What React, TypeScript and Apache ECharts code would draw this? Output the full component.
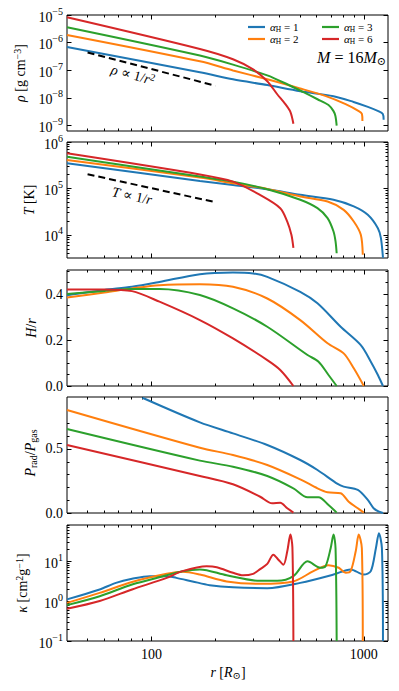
import { useEffect, useRef } from 'react';
import * as echarts from 'echarts';

const FONT = "'Liberation Serif', 'DejaVu Serif', serif";
const COLORS = ['#1f77b4', '#ff7f0e', '#2ca02c', '#d62728'];
const SERIES_NAMES = ['αH = 1', 'αH = 2', 'αH = 3', 'αH = 6'];

// shared x axis: r [R_sun]
const X_MIN = 40;
const X_MAX = 1300;
const X_MAJOR = [100, 1000];
const X_MINOR = [50, 60, 70, 80, 90, 200, 300, 400, 500, 600, 700, 800, 900];

// density rho [g cm^-3]
const rho1 = [[40, 6.9e-7], [169, 8.5e-8], [242, 4.7e-8], [351, 2.9e-8], [502, 1.74e-8], [720, 1.15e-8], [895, 7.1e-9], [1045, 4.7e-9], [1170, 3.3e-9], [1229, 2.6e-9], [1240, 1.6e-9]];
const rho2 = [[40, 1.9e-6], [169, 2.1e-7], [242, 9.8e-8], [351, 4.7e-8], [496, 2.24e-8], [663, 1.15e-8], [821, 5.9e-9], [947, 3.3e-9], [980, 2.6e-9], [985, 1.45e-9]];
const rho3 = [[40, 3.6e-6], [169, 3.4e-7], [242, 1.6e-7], [351, 6.5e-8], [436, 3.1e-8], [520, 1.6e-8], [605, 8.9e-9], [682, 5.5e-9], [720, 3.3e-9], [735, 2.2e-9], [745, 9.8e-10]];
const rho6 = [[40, 8.3e-6], [169, 5.9e-7], [242, 2.5e-7], [301, 1.07e-7], [351, 4.0e-8], [391, 1.35e-8], [427, 5.9e-9], [451, 3.1e-9], [466, 1.15e-9]];
const rhoGuide = [[50, 4.4e-7], [200, 2.75e-8]];

// temperature T [K]
const temp1 = [[40, 3.48e5], [169, 1.45e5], [242, 1.19e5], [351, 9.6e4], [502, 7.3e4], [720, 5.7e4], [897, 4.1e4], [1044, 2.7e4], [1165, 1.39e4], [1204, 8.5e3], [1231, 3.2e3]];
const temp2 = [[40, 4.1e5], [169, 1.71e5], [242, 1.29e5], [351, 9.75e4], [502, 6.7e4], [675, 5.2e4], [804, 3.45e4], [897, 1.93e4], [968, 1.0e4], [989, 3.7e3]];
const temp3 = [[40, 4.83e5], [169, 1.8e5], [242, 1.4e5], [351, 9.6e4], [502, 5.7e4], [605, 3.75e4], [675, 2.29e4], [720, 1.18e4], [736, 7.2e3], [745, 4.0e3]];
const temp6 = [[40, 5.7e5], [169, 2.0e5], [242, 1.4e5], [325, 7.2e4], [404, 3.75e4], [436, 1.93e4], [456, 1.0e4], [466, 5.2e3]];
const tempGuide = [[50, 2.02e5], [200, 5.05e4]];

// aspect ratio H/r
const hr1 = [[40, 0.395], [60, 0.418], [81, 0.432], [109, 0.453], [169, 0.487], [242, 0.494], [301, 0.49], [351, 0.475], [502, 0.41], [605, 0.36], [778, 0.258], [968, 0.178], [1079, 0.106], [1165, 0.048], [1231, 0]];
const hr2 = [[40, 0.385], [60, 0.407], [81, 0.425], [109, 0.439], [169, 0.443], [242, 0.432], [351, 0.381], [502, 0.287], [675, 0.186], [804, 0.142], [897, 0.077], [1000, 0]];
const hr3 = [[40, 0.4], [60, 0.414], [81, 0.422], [109, 0.422], [169, 0.396], [242, 0.338], [351, 0.258], [543, 0.135], [612, 0.106], [682, 0.048], [745, 0]];
const hr6 = [[40, 0.42], [60, 0.42], [81, 0.413], [109, 0.367], [169, 0.287], [242, 0.207], [351, 0.113], [404, 0.07], [466, 0]];

// pressure ratio P_rad / P_gas
const pr1 = [[90.6, 0.9], [169, 0.708], [242, 0.622], [351, 0.531], [502, 0.414], [605, 0.336], [753, 0.227], [804, 0.206], [937, 0.18], [1044, 0.102], [1112, 0.037], [1180, 0.01], [1231, 0.0]];
const pr2 = [[40, 0.805], [169, 0.51], [242, 0.453], [351, 0.375], [502, 0.263], [605, 0.193], [675, 0.162], [778, 0.154], [849, 0.088], [937, 0.037], [1000, 0.003]];
const pr3 = [[40, 0.656], [169, 0.409], [242, 0.362], [351, 0.289], [466, 0.193], [543, 0.123], [612, 0.123], [682, 0.0625], [745, 0.003]];
const pr6 = [[40, 0.531], [169, 0.289], [242, 0.224], [325, 0.127], [370, 0.076], [404, 0.08], [436, 0.037], [466, 0.003]];

// opacity kappa [cm^2 g^-1]
const kap1 = [[40, 1.1], [57, 1.95], [68, 2.85], [81, 3.6], [98, 4.2], [118, 4.2], [131, 3.8], [156, 3.1], [188, 2.5], [242, 2.2], [351, 2.1], [502, 2.85], [720, 4.6], [867, 6.2], [1000, 4.6], [1079, 5.6], [1140, 21], [1178, 50], [1217, 21], [1231, 0.1]];
const kap2 = [[40, 0.9], [57, 1.6], [81, 3.0], [118, 4.8], [140, 5.4], [169, 4.6], [226, 3.1], [325, 2.7], [466, 3.1], [579, 5.6], [682, 7.9], [762, 6.8], [822, 5.1], [867, 5.6], [916, 17.6], [946, 46], [979, 21], [989, 0.1]];
const kap3 = [[40, 0.79], [57, 1.32], [81, 2.6], [118, 4.4], [140, 5.6], [169, 6.2], [226, 4.4], [325, 3.2], [391, 3.2], [466, 4.2], [543, 9.9], [625, 6.8], [660, 7.4], [698, 21], [720, 46], [736, 21], [745, 0.1]];
const kap6 = [[40, 0.64], [57, 1.0], [81, 1.95], [118, 3.8], [140, 5.6], [182, 7.4], [203, 7.0], [242, 5.1], [270, 4.4], [301, 4.8], [325, 6.3], [351, 8.5], [375, 14.5], [395, 11], [418, 8.1], [436, 17.6], [451, 46], [461, 22], [466, 0.1]];

// y ticks
const RHO_MAJOR = [1e-9, 1e-8, 1e-7, 1e-6, 1e-5];
const T_MAJOR = [1e4, 1e5, 1e6];
const T_MINOR = [4e3, 5e3, 6e3, 7e3, 8e3, 9e3, 2e4, 3e4, 4e4, 5e4, 6e4, 7e4, 8e4, 9e4, 2e5, 3e5, 4e5, 5e5, 6e5, 7e5, 8e5, 9e5];
const HR_MAJOR = [0, 0.2, 0.4];
const HR_MINOR = [0.05, 0.1, 0.15, 0.25, 0.3, 0.35, 0.45, 0.5];
const PR_MAJOR = [0, 0.5];
const PR_MINOR = [0.1, 0.2, 0.3, 0.4, 0.6, 0.7, 0.8];
const K_MAJOR = [0.1, 1, 10];
const K_MINOR = [0.2, 0.3, 0.4, 0.5, 0.6, 0.7, 0.8, 0.9, 2, 3, 4, 5, 6, 7, 8, 9, 20, 30, 40, 50, 60, 70, 80];

const GRID_LEFT = 67;
const GRID_RIGHT = 11;
const GRID_H = 116;
const GRID_TOPS = [15, 142, 270, 397, 525];

const PANELS = [
  { type: 'log', min: 6.3e-10, max: 1e-5, major: RHO_MAJOR, minor: [], fmt: 'pow', data: [rho1, rho2, rho3, rho6], guide: rhoGuide },
  { type: 'log', min: 3162, max: 1e6, major: T_MAJOR, minor: T_MINOR, fmt: 'pow', data: [temp1, temp2, temp3, temp6], guide: tempGuide },
  { type: 'value', min: 0, max: 0.505, major: HR_MAJOR, minor: HR_MINOR, fmt: 'dec', data: [hr1, hr2, hr3, hr6], guide: null },
  { type: 'value', min: 0, max: 0.906, major: PR_MAJOR, minor: PR_MINOR, fmt: 'dec', data: [pr1, pr2, pr3, pr6], guide: null },
  { type: 'log', min: 0.1, max: 80, major: K_MAJOR, minor: K_MINOR, fmt: 'pow', data: [kap1, kap2, kap3, kap6], guide: null },
];

const TXT = { fontFamily: FONT, color: '#000' };
const powRich = {
  b: { ...TXT, fontSize: 14, lineHeight: 18, verticalAlign: 'bottom' },
  s: { ...TXT, fontSize: 10, lineHeight: 10, verticalAlign: 'top' },
};
const powFmt = (v: number) => {
  const e = Math.round(Math.log10(v));
  return `{b|10}{s|${e < 0 ? '\u2212' + -e : e}}`;
};
const decFmt = (v: number) => Number(v).toFixed(1);

const tick = (vals: number[], len: number) => ({
  show: vals.length > 0,
  inside: true,
  length: len,
  customValues: vals.length ? vals : undefined,
  lineStyle: { color: '#000', width: 1 },
});

function xAxesFor(gi: number, last: boolean) {
  const base = {
    type: 'log', logBase: 10, min: X_MIN, max: X_MAX, gridIndex: gi,
    axisLine: { show: false, onZero: false }, splitLine: { show: false },
  };
  return [
    {
      ...base, position: 'bottom', axisTick: tick(X_MAJOR, 4.5),
      axisLabel: last
        ? { show: true, customValues: X_MAJOR, formatter: (v: number) => String(Math.round(v)), margin: 6, fontFamily: FONT, fontSize: 14, color: '#000' }
        : { show: false },
    },
    { ...base, position: 'bottom', axisTick: tick(X_MINOR, 2.5), axisLabel: { show: false } },
    { ...base, position: 'top', axisTick: tick(X_MAJOR, 4.5), axisLabel: { show: false } },
    { ...base, position: 'top', axisTick: tick(X_MINOR, 2.5), axisLabel: { show: false } },
  ];
}

function yAxesFor(gi: number, p: any) {
  const base: any = {
    type: p.type, min: p.min, max: p.max, gridIndex: gi,
    axisLine: { show: false, onZero: false }, splitLine: { show: false },
  };
  if (p.type === 'log') base.logBase = 10;
  const label = p.fmt === 'pow'
    ? { show: true, customValues: p.major, formatter: powFmt, rich: powRich, margin: 4, fontFamily: FONT, fontSize: 14, color: '#000' }
    : { show: true, customValues: p.major, formatter: decFmt, margin: 4, fontFamily: FONT, fontSize: 14, color: '#000' };
  return [
    { ...base, position: 'left', axisTick: tick(p.major, 4.5), axisLabel: label },
    { ...base, position: 'left', axisTick: tick(p.minor, 2.5), axisLabel: { show: false } },
    { ...base, position: 'right', axisTick: tick(p.major, 4.5), axisLabel: { show: false } },
    { ...base, position: 'right', axisTick: tick(p.minor, 2.5), axisLabel: { show: false } },
  ];
}

const legendRich = {
  a: { ...TXT, fontSize: 11, fontStyle: 'italic', lineHeight: 12, verticalAlign: 'top' },
  h: { ...TXT, fontSize: 7.5, lineHeight: 7, verticalAlign: 'bottom' },
  t: { ...TXT, fontSize: 11, lineHeight: 12, verticalAlign: 'top' },
};
const LEGEND_POS = [[248, 21], [248, 33], [322, 21], [322, 33]];

const labelRich = {
  i: { ...TXT, fontSize: 14, fontStyle: 'italic', lineHeight: 16, verticalAlign: 'middle' },
  t: { ...TXT, fontSize: 14, lineHeight: 16, verticalAlign: 'middle' },
  s: { ...TXT, fontSize: 10, lineHeight: 10, verticalAlign: 'top' },
  d: { ...TXT, fontSize: 10, lineHeight: 9, verticalAlign: 'bottom' },
  bi: { ...TXT, fontSize: 16, fontStyle: 'italic', lineHeight: 18, verticalAlign: 'middle' },
  bt: { ...TXT, fontSize: 16, lineHeight: 18, verticalAlign: 'middle' },
  bd: { ...TXT, fontSize: 11, lineHeight: 10, verticalAlign: 'bottom' },
};

function textEl(text: string, x: number, y: number, rotation: number, align = 'center') {
  return {
    type: 'text', x, y, rotation, z: 10,
    style: {
      text, rich: labelRich, align, verticalAlign: 'middle',
      textAlign: align, textVerticalAlign: 'middle',
      fontFamily: FONT, fontSize: 14, fill: '#000',
    },
  };
}

function buildOption() {
  const grid = GRID_TOPS.map((top) => ({
    left: GRID_LEFT, right: GRID_RIGHT, top, height: GRID_H,
    show: true, borderColor: '#000', borderWidth: 1, backgroundColor: 'transparent',
  }));
  const xAxis: any[] = [];
  const yAxis: any[] = [];
  const series: any[] = [];
  PANELS.forEach((p, gi) => {
    xAxis.push(...xAxesFor(gi, gi === PANELS.length - 1));
    yAxis.push(...yAxesFor(gi, p));
    p.data.forEach((d, si) => {
      series.push({
        type: 'line', name: SERIES_NAMES[si], data: d,
        xAxisIndex: gi * 4, yAxisIndex: gi * 4,
        showSymbol: false, symbol: 'none', smooth: 0.3, clip: true,
        color: COLORS[si],
        lineStyle: { color: COLORS[si], width: 2 },
        itemStyle: { color: COLORS[si] },
        emphasis: { disabled: true },
      });
    });
    if (p.guide) {
      series.push({
        type: 'line', name: 'guide' + gi, data: p.guide,
        xAxisIndex: gi * 4, yAxisIndex: gi * 4,
        showSymbol: false, symbol: 'none', clip: true,
        lineStyle: { color: '#000', width: 2, type: [7, 4] },
        emphasis: { disabled: true },
      });
    }
  });

  const legend = SERIES_NAMES.map((n, i) => ({
    data: [n], left: LEGEND_POS[i][0], top: LEGEND_POS[i][1], padding: 0,
    icon: 'rect', itemWidth: 17, itemHeight: 2.2, itemGap: 0, selectedMode: false,
    formatter: (name: string) => `{a|α}{h|H}{t| = ${name.split('= ')[1]}}`,
    textStyle: { ...TXT, fontSize: 11, rich: legendRich },
  }));

  const graphic = [
    textEl('{i|ρ}{t| [g cm}{s|−3}{t|]}', 20, 73, Math.PI / 2),
    textEl('{i|T}{t| [K]}', 29, 200, Math.PI / 2),
    textEl('{i|H}{t|/}{i|r}', 31, 328, Math.PI / 2),
    textEl('{i|P}{d|rad}{t|/}{i|P}{d|gas}', 30, 453, Math.PI / 2),
    textEl('{i|κ}{t| [cm}{s|2}{t|g}{s|−1}{t|]}', 22, 583, Math.PI / 2),
    textEl('{i|r}{t| [}{i|R}{d|⊙}{t|]}', 228, 672, 0),
    textEl('{i|ρ}{t| ∝ 1/}{i|r}{s|2}', 133, 75, -0.269),
    textEl('{i|T}{t| ∝ 1/}{i|r}', 132, 196, -0.217),
    textEl('{bi|M}{bt| = 16}{bi|M}{bd|⊙}', 386, 57, 0, 'right'),
  ];

  return {
    animation: false,
    backgroundColor: '#fff',
    grid, xAxis, yAxis, series, legend, graphic,
  };
}

export default function App() {
  const ref = useRef<HTMLDivElement>(null);
  useEffect(() => {
    if (!ref.current) return;
    const chart = echarts.init(ref.current, undefined, { renderer: 'svg' });
    chart.setOption(buildOption() as any);
    return () => chart.dispose();
  }, []);
  return (
    <div
      ref={ref}
      style={{ position: 'fixed', left: 0, top: 0, width: 399, height: 691, background: '#fff' }}
    />
  );
}
